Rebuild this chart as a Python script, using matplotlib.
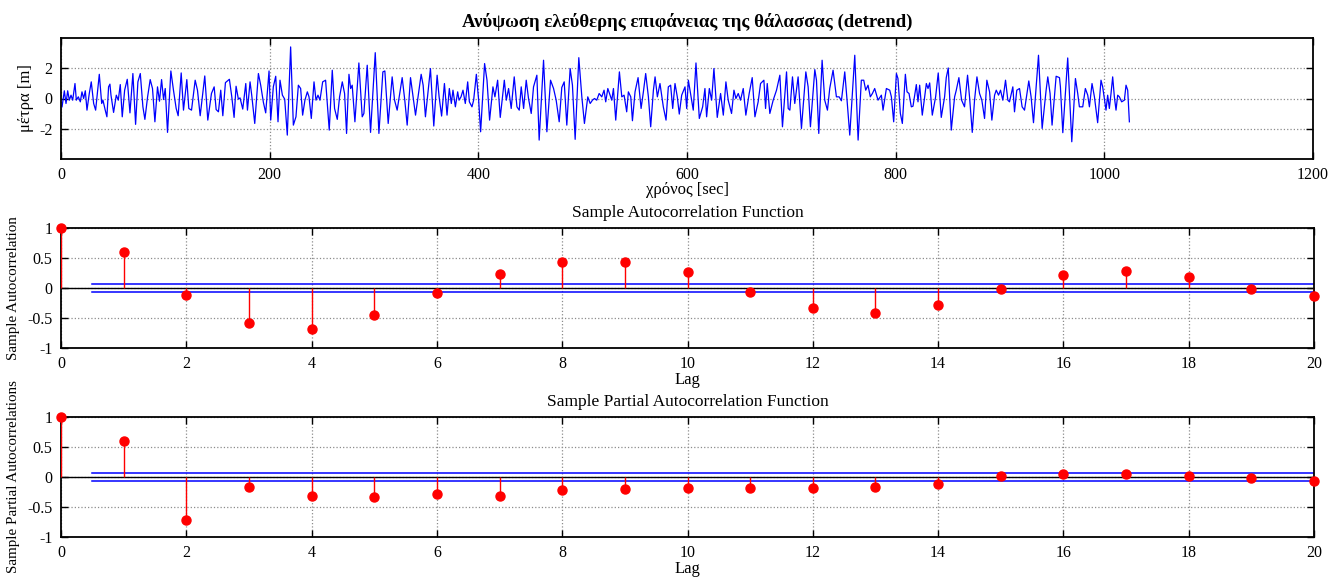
import matplotlib
matplotlib.use("Agg")
import matplotlib.pyplot as plt
import numpy as np

plt.rcParams['font.family'] = ['Liberation Serif', 'DejaVu Serif']
plt.rcParams['axes.unicode_minus'] = False

# ---- data: time series (extrema and turning points) ----
time_sec = [1.0, 3.2, 4.8, 6.4, 8.0, 9.6, 11.2, 13.4, 14.7, 16.6, 18.5, 20.1, 21.7, 23.3, 24.9, 27.1, 29.0, 31.3, 33.2,
            36.7, 39.0, 40.2, 42.4, 44.0, 45.6, 46.9, 47.9, 50.4, 53.0, 54.9, 56.8, 58.7, 61.0, 63.5, 66.1, 68.9, 71.5,
            73.7, 76.0, 78.5, 80.4, 83.0, 85.5, 87.7, 90.0, 92.5, 94.4, 96.4, 98.3, 99.9, 102.1, 105.3, 107.8, 110.4,
            112.3, 115.2, 117.4, 120.6, 122.5, 125.1, 128.6, 130.8, 133.4, 137.8, 140.7, 144.2, 146.8, 148.7, 150.9,
            153.1, 155.1, 157.6, 161.4, 163.7, 165.9, 167.8, 170.0, 171.6, 174.2, 177.1, 178.7, 181.2, 182.8, 185.7,
            189.2, 191.4, 194.0, 196.2, 199.4, 201.0, 203.5, 205.8, 208.0, 209.9, 212.2, 214.4, 216.9, 220.1, 222.7,
            225.2, 227.5, 229.7, 231.6, 233.8, 236.1, 237.7, 239.9, 242.5, 244.4, 246.3, 248.2, 250.8, 253.6, 257.1,
            260.0, 262.2, 264.8, 267.0, 269.6, 271.8, 273.7, 276.0, 277.6, 279.1, 281.7, 285.5, 288.7, 290.3, 293.5,
            296.7, 301.2, 304.7, 308.5, 310.4, 313.6, 317.4, 319.7, 322.2, 327.0, 329.5, 331.8, 335.0, 337.5, 339.8,
            345.2, 347.1, 349.3, 354.1, 357.3, 360.5, 362.4, 364.8, 367.5,
            370.0, 372.2, 374.1, 375.7, 378.0, 380.2, 381.5, 383.4, 385.3, 387.5, 389.8, 391.4, 393.9, 395.5, 398.1,
            400.3, 402.2, 406.0, 408.3, 410.8, 414.0, 415.9, 418.5, 421.0, 423.3, 424.9, 426.8, 429.0, 431.5, 434.4,
            437.0, 439.2, 441.1, 443.4, 445.9, 448.1, 450.7, 452.9, 456.1, 458.3, 462.5, 465.7, 469.2, 472.1, 474.6,
            477.5, 480.0, 482.3, 484.8, 488.0, 490.2, 492.8, 496.3, 499.2, 501.7, 504.9, 507.2, 509.4, 511.3, 513.5,
            515.8, 518.3, 520.5, 522.1, 524.1, 526.3, 527.9, 529.5, 531.7, 535.2, 537.5, 539.7, 542.2, 543.8, 546.1,
            547.7, 550.2, 553.1, 556.0, 558.2, 560.4, 563.0, 565.2, 567.8, 569.4, 571.6, 574.1, 577.3, 579.9, 582.1,
            584.3, 586.3, 588.5, 590.7, 592.6, 594.9, 598.1, 599.7, 601.3, 604.4, 606.0, 608.6, 611.8, 615.0, 617.2,
            618.8, 621.4, 623.6, 625.8, 629.0, 632.2, 634.8, 637.3, 639.5, 642.7, 645.0, 646.9, 649.1, 651.3, 653.9,
            656.4, 659.6, 662.5, 665.1, 668.2, 670.5, 673.7, 675.3, 676.9, 679.4, 682.6, 685.8, 689.0, 691.5, 695.4,
            697.0, 698.6, 701.1, 703.3, 706.5, 709.7, 713.9, 716.1, 718.3, 722.5, 724.1, 726.3, 729.5, 732.0, 734.6,
            736.8, 740.0, 743.2, 745.8, 748.0, 751.2, 753.4, 756.0, 760.8, 764.0, 767.1, 769.4, 771.3, 773.5, 775.7,
            777.7, 779.9, 783.1, 786.3, 787.9, 791.1,
            794.3, 795.9, 798.1, 800.7, 802.2, 804.5, 806.4, 809.3, 810.9, 812.8, 815.0, 816.6, 818.2, 819.8, 821.4,
            823.0, 825.5, 827.4, 829.4, 831.0, 832.6, 835.1, 838.3, 840.8, 843.7, 846.9, 848.5, 850.4, 853.3, 856.5,
            858.1, 860.6, 863.2, 866.0, 868.9, 870.8, 873.4, 875.6, 877.9, 880.4, 882.6, 885.2, 887.4, 890.0, 892.2,
            894.8, 896.4, 898.6, 900.5, 902.7, 905.3, 907.5, 909.1, 912.3, 913.9, 916.1, 918.7, 921.2, 923.5, 927.6,
            929.8, 932.1, 936.9, 940.4, 944.2, 945.8, 948.0, 949.9, 953.8, 957.0, 957.9, 960.2, 964.9, 968.8, 972.3,
            974.5, 976.1, 979.3, 981.8, 984.1, 985.7, 988.2, 990.5, 993.6, 996.8, 998.4, 1000.0, 1001.6, 1003.2,
            1004.8, 1006.4, 1008.0, 1009.6, 1011.2, 1012.8, 1014.4, 1016.6, 1019.2, 1020.8, 1022.4, 1024.0]

height_m = [-0.55, 0.51, -0.33, 0.51, -0.11, 0.22, -0.11, 0.99, -0.11, 0.11, -0.22, 0.44, 0.0, 0.51, -0.77, 0.33, 1.10, -0.33, -0.77,
            1.60, -0.33, -0.11, -0.77, -1.21, 0.77, 0.95, 0.22, -0.92, 0.22, -0.11, 0.92, -1.21, 0.55, 1.27, -0.95, 1.65, -1.71,
            1.10, 1.65, -0.55, -1.38, 0.11, 1.25, 0.66, -1.54, 0.77, -0.18, 1.25, -0.07, 0.66, -2.24, 1.82, 0.55, -0.66,
            -1.14, 1.69, -0.77, 1.25, -0.66, -0.77, 1.21, 0.55, -1.14, 1.49, -1.43, 0.33, 0.77, -0.73, -0.88,
            0.55, -1.14, 1.05, 1.27, 0.11, -1.25, 0.81, -0.04, 0.04, -0.70, 0.99, -0.77, 1.10, 0.22, -1.65,
            1.65, 0.88, -0.26, -0.95, 1.82, -1.43, 0.77, 1.47, -1.54, 1.21, 0.22, -0.04, -2.42, 3.41, -1.76,
            -1.21, 0.88, 0.66, -1.10, -0.11, 0.44, 0.11, -1.32, 1.10, -0.11, 0.22, -0.11, 1.10, 1.21, -2.09,
            1.87, -0.66, -1.38, 0.11, 1.10, 0.33, -2.31, 1.60, 0.66, 0.88, -1.54, 2.35, -1.21, -0.99, 2.20,
            -2.24, 3.03, -2.31, 1.76, 1.82, -1.65, 1.43, -0.11, -0.77, 1.38, -0.11, -1.76, 1.38, 0.11, -1.10,
            1.60, 0.88, -1.21, 1.98, -1.82, 1.54, 0.11, -1.16, 0.99,
            -1.10, 0.66, -0.33, 0.55, -0.55, 0.44, -0.11, 0.11, 0.55, -0.33, 1.10, -0.22, -0.55, -0.11, 1.60,
            -0.11, -2.20, 2.31, 1.21, -1.43, 0.77, 0.11, 1.21, -1.25, 0.22, 1.21, -0.11, 0.66, -0.66, 1.43,
            -0.55, -0.77, 0.77, -0.66, 1.21, 0.0, -0.99, 0.77, 1.54, -2.75, 2.53, -2.20, 1.21, 0.66, -0.11,
            -1.54, 0.73, 1.10, -1.76, 1.98, 0.88, -2.70, 2.70, 0.11, -1.65, 0.11, -0.33, -0.11, 0.0, -0.11,
            0.33, 0.11, 0.55, -0.22, 0.66, 0.22, -0.11, 0.66, -1.43, 1.76, 0.11, 0.22, -0.88, 0.44, 0.11,
            -1.47, 0.44, 1.38, -0.66, 0.44, 1.65, 0.11, -1.87, 0.55, 1.43, 0.11, 0.99, -0.55, -1.43, 0.77,
            0.88, -0.66, 0.99, 0.11, -1.03, 0.22, 0.77, -0.66, 1.21, -0.11, -0.77, 2.35, -1.32, -0.55, 0.66,
            -1.21, 0.66, -0.11, 1.98, -1.25, 0.33, -1.10, 1.10, -0.11, -0.99, 0.55, 0.0, 0.33, -0.11, 0.66,
            -1.10, 0.33, 1.38, -1.21, -0.22, 0.99, 1.21, -0.66, 0.99, -0.99, -0.11, 0.55, 1.54, -1.87, 1.76,
            -0.66, -0.77, 1.43, -0.33, 1.43, -1.98, 1.76, 0.77, -1.87, 1.91, 1.21, -2.31, 2.53, -0.11, -0.77,
            0.66, 1.87, 0.11, 0.11, -0.15, 1.76, -0.11, -2.42, 2.86, -2.75, 1.21, 1.21, 0.55, 0.88, 0.11,
            0.33, 0.66, -0.11, 0.22, -0.77, 0.66,
            0.55, 0.11, -1.54, 1.65, 1.32, -0.99, -1.65, 1.60, 0.44, 0.33, -0.55, -0.51, 0.22, 0.92, -0.22,
            0.88, -1.10, -0.11, 0.99, 0.66, 1.03, -1.10, 0.11, 1.69, -1.25, 0.11, 1.38, 2.02, -2.09, 0.11,
            0.55, 1.38, -0.11, -0.55, 1.54, 0.11, -2.24, -0.11, 1.43, 0.33, -0.11, -1.32, 1.21, 0.44, -1.43,
            0.22, 0.55, 0.22, 0.55, -0.11, 1.21, -0.11, -0.22, 0.77, -0.88, 0.55, 0.66, -0.55, -0.77, 1.16,
            0.11, -1.60, 2.86, -1.98, 0.55, 1.43, 0.33, -1.76, 1.47, 1.38, 0.77, -2.26, 2.68, -2.86, 1.32,
            0.33, -0.55, -0.55, 0.66, 0.22, -0.55, 0.99, 0.11, -1.60, 1.21, 0.77, 0.0, -0.77, 0.22,
            -0.66, 0.33, 1.43, 0.11, -0.77, 0.22, 0.11, -0.22, -0.11, 0.88, 0.55, -1.54]

# ---- data: sample ACF / PACF ----
lags = list(range(21))
acf_values = [1.0, 0.60, -0.11, -0.59, -0.68, -0.45, -0.08, 0.24, 0.44, 0.44, 0.26,
              -0.06, -0.33, -0.42, -0.28, -0.02, 0.22, 0.29, 0.19, -0.01, -0.14]
pacf_values = [1.0, 0.60, -0.72, -0.17, -0.31, -0.33, -0.28, -0.31, -0.22, -0.20, -0.18,
               -0.18, -0.18, -0.16, -0.12, 0.02, 0.05, 0.05, 0.02, -0.02, -0.07]
acf_bound = 0.062
pacf_bound = 0.062

title_top = "Ανύψωση ελεύθερης επιφάνειας της θάλασσας (detrend)"
xlabel_top = "χρόνος [sec]"
ylabel_top = "μέτρα [m]"

W, H = 1341, 578
fig = plt.figure(figsize=(W / 100, H / 100), dpi=100)

def box(l, t, r, b):
    return [l / W, 1 - b / H, (r - l) / W, (b - t) / H]

ax1 = fig.add_axes(box(61, 38, 1313, 159))
ax2 = fig.add_axes(box(61, 228, 1314, 348))
ax3 = fig.add_axes(box(61, 417, 1314, 537))

grid_kw = dict(color='#8c8c8c', linestyle=':', linewidth=0.9)
fs = 12

def style(ax):
    ax.grid(True, **grid_kw)
    ax.set_axisbelow(True)
    ax.tick_params(direction='in', length=5, width=1.0, top=True, right=True, labelsize=11.5, pad=6)
    for s in ax.spines.values():
        s.set_linewidth(1.3)

# top: time series
ax1.plot(time_sec, height_m, color='#0000ff', linewidth=0.9)
ax1.set_xlim(0, 1200)
ax1.set_ylim(-4, 4)
ax1.set_xticks(np.arange(0, 1201, 200))
ax1.set_yticks([-2, 0, 2])
style(ax1)
ax1.set_title(title_top, fontsize=13.5, fontweight='bold', pad=8)
ax1.set_xlabel(xlabel_top, fontsize=fs, labelpad=-1)
ax1.set_ylabel(ylabel_top, fontsize=fs, labelpad=4)

def stemplot(ax, vals, bound, title, ylabel):
    ax.vlines(lags, 0, vals, color='#ff0000', linewidth=1.0, zorder=3)
    ax.plot(lags, vals, 'o', color='#ff0000', markersize=6.5, zorder=4, clip_on=False)
    ax.axhline(0, color='black', linewidth=1.0, zorder=2)
    ax.plot([0.5, 20], [bound, bound], color='#0000ff', linewidth=1.1, zorder=2)
    ax.plot([0.5, 20], [-bound, -bound], color='#0000ff', linewidth=1.1, zorder=2)
    ax.set_xlim(0, 20)
    ax.set_ylim(-1, 1)
    ax.set_xticks(np.arange(0, 21, 2))
    ax.set_yticks([-1, -0.5, 0, 0.5, 1])
    ax.set_yticklabels(['-1', '-0.5', '0', '0.5', '1'])
    style(ax)
    ax.set_title(title, fontsize=12.5, pad=8)
    ax.set_xlabel('Lag', fontsize=fs, labelpad=0)
    ax.set_ylabel(ylabel, fontsize=10.8, labelpad=5)

stemplot(ax2, acf_values, acf_bound, 'Sample Autocorrelation Function', 'Sample Autocorrelation')
stemplot(ax3, pacf_values, pacf_bound, 'Sample Partial Autocorrelation Function', 'Sample Partial Autocorrelations')

fig.savefig('out.png', dpi=100)
